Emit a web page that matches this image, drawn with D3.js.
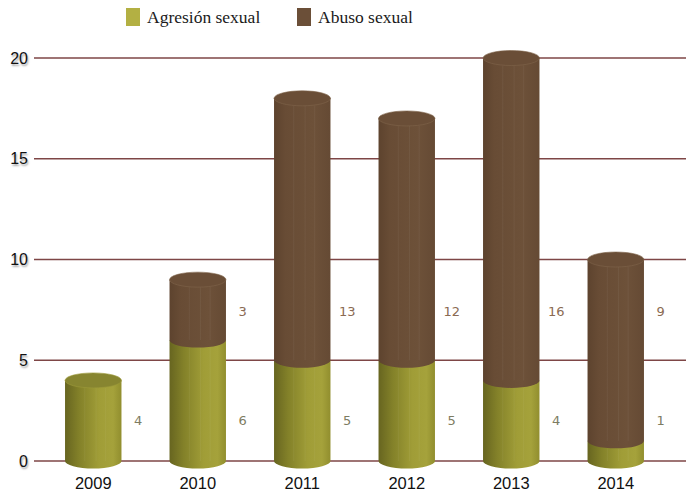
<!DOCTYPE html>
<html>
<head>
<meta charset="utf-8">
<script src="https://cdn.jsdelivr.net/npm/d3@7/dist/d3.min.js"></script>
<style>
  html, body { margin: 0; padding: 0; background: #fff; }
  svg { display: block; }
</style>
</head>
<body>
<script>
// Casos por año
const years = ["2009", "2010", "2011", "2012", "2013", "2014"];
const agresion = [4, 6, 5, 5, 4, 1];
const abuso = [0, 3, 13, 12, 16, 9];
const seriesNames = ["Agresión sexual", "Abuso sexual"];
const yTicks = [0, 5, 10, 15, 20];

const W = 686, H = 497;
const svg = d3.select("body").append("svg").attr("width", W).attr("height", H);

const x = d3.scaleBand().domain(years).range([41, 668]).paddingInner(0.46).paddingOuter(0.23);
const y = d3.scaleLinear().domain([0, 20]).range([461, 58]);

const defs = svg.append("defs");
const gGreen = defs.append("linearGradient").attr("id", "gGreen");
[["0%", "#676520"], ["25%", "#838129"], ["60%", "#a09d37"], ["85%", "#a5a23b"], ["100%", "#918e2e"]]
  .forEach(([o, c]) => gGreen.append("stop").attr("offset", o).attr("stop-color", c));
const gBrown = defs.append("linearGradient").attr("id", "gBrown");
[["0%", "#5d432e"], ["20%", "#684c35"], ["70%", "#6d5139"], ["100%", "#654a34"]]
  .forEach(([o, c]) => gBrown.append("stop").attr("offset", o).attr("stop-color", c));
const blur = defs.append("filter").attr("id", "soft").attr("x", "-20%").attr("y", "-50%").attr("width", "140%").attr("height", "200%");
blur.append("feGaussianBlur").attr("stdDeviation", 1.2);

// Legend
const legend = svg.append("g");
const legendX = [126, 297];
const legendColors = ["#b3b043", "#6b4f38"];
seriesNames.forEach((name, i) => {
  legend.append("rect").attr("x", legendX[i]).attr("y", 8).attr("width", 14).attr("height", 18).attr("fill", legendColors[i]);
  legend.append("text").attr("x", legendX[i] + 21).attr("y", 23)
    .attr("font-family", "Liberation Serif, serif").attr("font-size", 17.5).attr("fill", "#1a1a1a")
    .text(name);
});

// Grid lines with soft shadow
const grid = svg.append("g");
yTicks.forEach(t => {
  grid.append("line").attr("x1", 34).attr("x2", W).attr("y1", y(t) + 2).attr("y2", y(t) + 2)
    .attr("stroke", "#c8c0c0").attr("stroke-width", 2).attr("filter", "url(#soft)");
  grid.append("line").attr("x1", 34).attr("x2", W).attr("y1", y(t)).attr("y2", y(t))
    .attr("stroke", "#7e4646").attr("stroke-width", 1.6);
});

// Y axis labels
const yAxis = svg.append("g").attr("transform", "translate(28,0)")
  .call(d3.axisLeft(y).tickValues(yTicks).tickSize(0).tickPadding(0));
yAxis.select(".domain").remove();
yAxis.selectAll("text").attr("font-family", "Liberation Sans, Arial, sans-serif").attr("font-size", 16)
  .attr("fill", "#111").style("text-shadow", "1px 2px 2px rgba(0,0,0,0.35)");

// X axis labels
const xAxis = svg.append("g").attr("transform", "translate(0,477)")
  .call(d3.axisBottom(x).tickSize(0).tickPadding(0));
xAxis.select(".domain").remove();
xAxis.selectAll("text").attr("font-family", "Liberation Sans, Arial, sans-serif").attr("font-size", 16.5)
  .attr("fill", "#111").attr("dy", "0.72em");

// Cylinders
const rx = x.bandwidth() / 2, ry = 7.5;
const bars = svg.append("g");
years.forEach((yr, i) => {
  const cx = x(yr) + rx;
  const g = bars.append("g");
  const a = agresion[i], b = abuso[i], tot = a + b;
  const segs = [
    { from: 0, to: a, fill: "url(#gGreen)", top: "#878530", rim: "#9d9a3a" },
    { from: a, to: tot, fill: "url(#gBrown)", top: "#6a4e37", rim: "#80644b" }
  ].filter(s => s.to > s.from);
  segs.forEach((s, k) => {
    const y0 = y(s.from), y1 = y(s.to);
    g.append("path")
      .attr("d", `M${cx - rx},${y1} L${cx - rx},${y0} A${rx},${ry} 0 0 0 ${cx + rx},${y0} L${cx + rx},${y1} Z`)
      .attr("fill", s.fill);
    // faint vertical streaks
    [0.35, 0.55, 0.72].forEach(f => {
      g.append("line").attr("x1", cx - rx + f * 2 * rx).attr("x2", cx - rx + f * 2 * rx)
        .attr("y1", y1 + ry).attr("y2", y0).attr("stroke", "rgba(255,255,255,0.05)").attr("stroke-width", 1);
    });
    if (k === segs.length - 1) {
      g.append("ellipse").attr("cx", cx).attr("cy", y1).attr("rx", rx).attr("ry", ry)
        .attr("fill", s.top).attr("stroke", s.rim).attr("stroke-width", 0.6);
    }
  });
});

// Value labels
const labels = svg.append("g").attr("font-family", "DejaVu Sans, sans-serif").attr("font-size", 13).attr("text-anchor", "middle");
years.forEach((yr, i) => {
  const lx = x(yr) + rx + 45;
  labels.append("text").attr("x", lx).attr("y", y(2)).attr("dy", "0.35em").attr("fill", "#7d7c62").text(agresion[i]);
  if (abuso[i] > 0) {
    labels.append("text").attr("x", lx).attr("y", y(7.4)).attr("dy", "0.35em").attr("fill", "#8a6a52").text(abuso[i]);
  }
});
</script>
</body>
</html>
